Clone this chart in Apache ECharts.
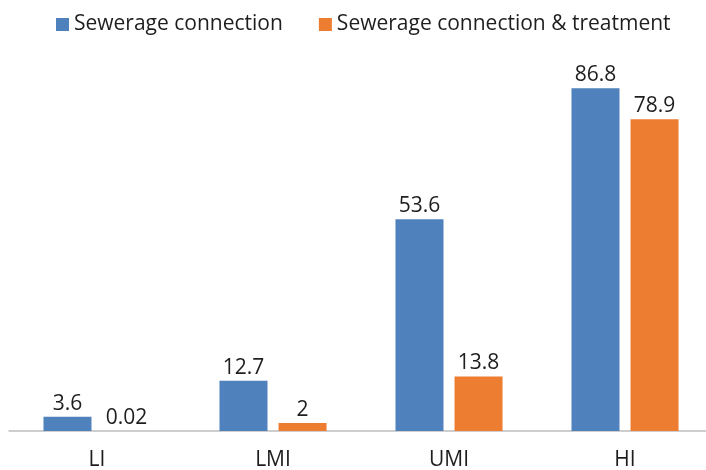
<!DOCTYPE html>
<html>
<head>
<meta charset="utf-8">
<script src="https://cdn.jsdelivr.net/npm/echarts@6/dist/echarts.min.js"></script>
<style>
  html, body { margin: 0; padding: 0; background: #ffffff; }
  #chart { width: 706px; height: 470px; }
</style>
</head>
<body>
<div id="chart"></div>
<script>
// Income groups and share of population served (%)
var categories = ['LI', 'LMI', 'UMI', 'HI'];
var connection = [3.6, 12.7, 53.6, 86.8];
var connectionTreatment = [0.02, 2, 13.8, 78.9];
var seriesNames = ['Sewerage connection', 'Sewerage connection & treatment'];

var FONT = '"Open Sans", "Noto Sans", sans-serif';
var TEXT = '#1e1e1e';

function labelFmt(p) { return String(p.value); }

var chart = echarts.init(document.getElementById('chart'), null, { renderer: 'canvas' });
chart.setOption({
  animation: false,
  textStyle: { fontFamily: FONT },
  legend: {
    top: 9,
    left: 51,
    itemWidth: 13,
    itemHeight: 13,
    itemGap: 36,
    icon: 'rect',
    textStyle: { fontSize: 21, color: TEXT, fontFamily: FONT },
    data: seriesNames
  },
  grid: { left: 9, width: 704, top: 36, bottom: 39, containLabel: false, outerBoundsMode: 'none' },
  xAxis: {
    type: 'category',
    data: categories,
    axisLine: { lineStyle: { color: '#bfbfbf', width: 1.5 } },
    axisTick: { show: false },
    axisLabel: { fontSize: 21, color: TEXT, margin: 19, fontFamily: FONT }
  },
  yAxis: {
    type: 'value',
    min: 0,
    max: 100,
    show: false,
    splitLine: { show: false }
  },
  series: [
    {
      name: seriesNames[0],
      type: 'bar',
      data: connection,
      barWidth: 48,
      barGap: '23%',
      itemStyle: { color: '#4f81bd' },
      label: { show: true, position: 'top', distance: 2.5, fontSize: 21, color: TEXT, fontFamily: FONT, formatter: labelFmt }
    },
    {
      name: seriesNames[1],
      type: 'bar',
      data: connectionTreatment,
      barWidth: 48,
      barGap: '23%',
      itemStyle: { color: '#ed7d31' },
      label: { show: true, position: 'top', distance: 2.5, fontSize: 21, color: TEXT, fontFamily: FONT, formatter: labelFmt }
    }
  ]
});
</script>
</body>
</html>
